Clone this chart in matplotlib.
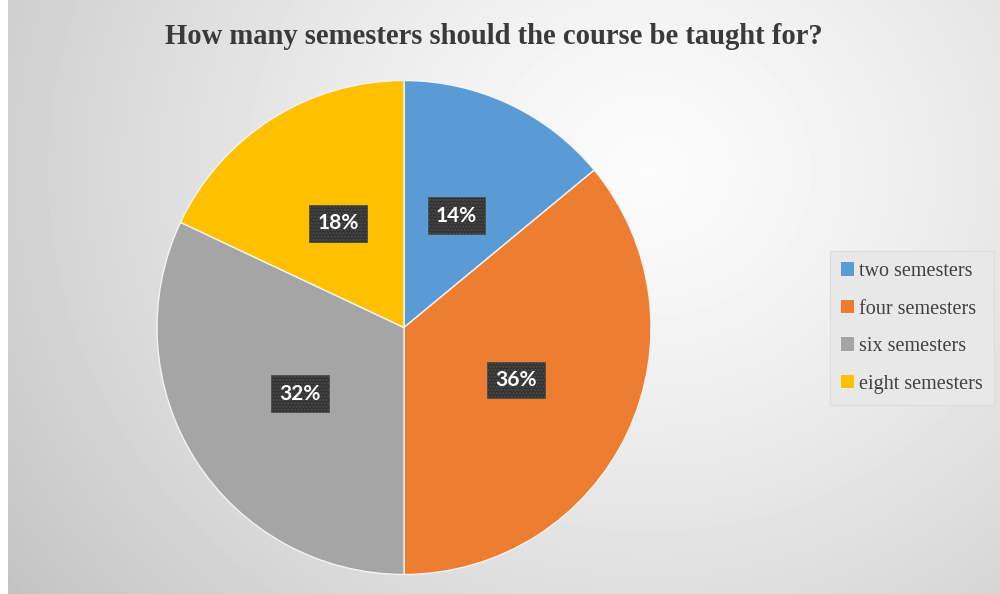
import numpy as np
import matplotlib.pyplot as plt
from matplotlib.patches import Patch

categories = ["two semesters", "four semesters", "six semesters", "eight semesters"]
shares = [14, 36, 32, 18]
colors = ["#5b9bd5", "#ed7d31", "#a5a5a5", "#ffc000"]
title = "How many semesters should the course be taught for?"

W, H = 1000, 594
fig = plt.figure(figsize=(W / 100, H / 100), dpi=100)
fig.patch.set_facecolor("white")

# Soft radial grey background behind the chart
bg = fig.add_axes([8 / W, 0, 1 - 8 / W, 1])
bg.set_axis_off()
yy, xx = np.mgrid[0:H, 0:W - 8]
cx, cy = 640, 170
d = np.sqrt(((xx - cx) / 1.0) ** 2 + ((yy - cy) / 0.9) ** 2)
d = d / d.max()
shade = 0.985 - 0.22 * d ** 1.3
bg.imshow(shade, cmap="gray", vmin=0, vmax=1, aspect="auto",
          extent=[0, 1, 0, 1], origin="upper")
bg.set_xlim(0, 1)
bg.set_ylim(0, 1)

# Pie
r = 247
pcx, pcy = 404, 327.5
ax = fig.add_axes([(pcx - r) / W, (H - pcy - r) / H, 2 * r / W, 2 * r / H])
wedges, texts, autotexts = ax.pie(
    shares, colors=colors, startangle=90, counterclock=False,
    autopct="%d%%", pctdistance=0.5, radius=1.0,
    wedgeprops=dict(edgecolor="#f4f4f4", linewidth=1.0),
    textprops=dict(color="white", fontsize=15, fontweight="bold",
                   family=["Lato", "DejaVu Sans"]),
)
for t in autotexts:
    t.set_bbox(dict(boxstyle="square,pad=0.4", facecolor="#333333",
                    edgecolor="#4d4d4d", linewidth=0.6, hatch="....."))
ax.set_xlim(-1, 1)
ax.set_ylim(-1, 1)
ax.set_aspect("equal")
ax.set_axis_off()

# Title
fig.text(494 / W, 1 - 36 / H, title, ha="center", va="center",
         fontsize=20.6, fontweight="bold", color="#3a3a3a",
         family=["Liberation Serif", "DejaVu Serif"])

# Legend
handles = [Patch(facecolor=c, edgecolor="none") for c in colors]
leg = fig.legend(handles, categories, loc="center left",
                 bbox_to_anchor=(830 / W, 1 - 328 / H), borderaxespad=0,
                 prop=dict(family=["Liberation Serif"], size=14.5),
                 handlelength=0.65, handleheight=0.65, handletextpad=0.25,
                 labelspacing=0.92, borderpad=0.55, frameon=True,
                 fancybox=False, framealpha=1)
leg.get_frame().set_facecolor("#e8e8e8")
leg.get_frame().set_edgecolor("#dcdcdc")
leg.get_frame().set_linewidth(0.8)
for t in leg.get_texts():
    t.set_color("#404040")

fig.savefig("out.png", dpi=100, facecolor=fig.get_facecolor())
